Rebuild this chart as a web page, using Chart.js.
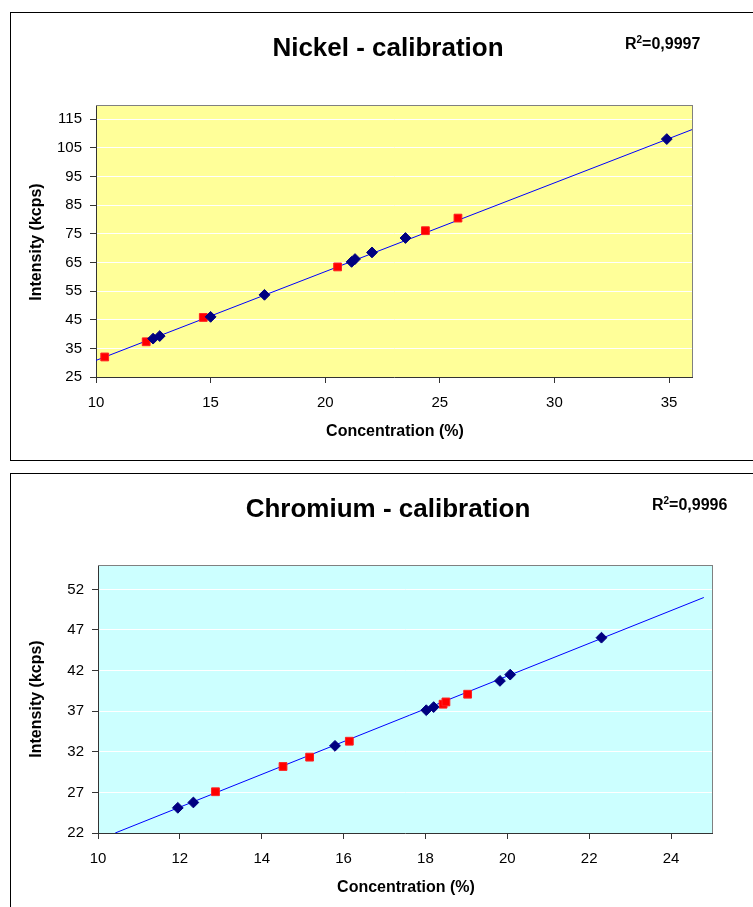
<!DOCTYPE html>
<html>
<head>
<meta charset="utf-8">
<script src="https://cdn.jsdelivr.net/npm/chart.js@4.4.1/dist/chart.umd.min.js"></script>
<style>
  html, body { margin: 0; padding: 0; background: #ffffff; overflow: hidden; }
  body { width: 753px; height: 907px; position: relative; }
  .wrap { position: absolute; left: 0; width: 753px; }
  canvas { display: block; }
</style>
</head>
<body>
<div class="wrap" style="top:0;height:462px;"><canvas id="ni" width="753" height="462"></canvas></div>
<div class="wrap" style="top:462px;height:445px;"><canvas id="cr" width="753" height="445"></canvas></div>
<script>
// ---------- Nickel data ----------
const niStdConc = [12.49, 12.78, 15.0, 17.35, 21.15, 21.3, 22.04, 23.5, 34.9];
const niStdInt  = [38.4, 39.3, 46.0, 53.7, 65.2, 66.2, 68.5, 73.55, 108.1];
const niChkConc = [10.38, 12.19, 14.68, 20.54, 24.37, 25.79];
const niChkInt  = [32.0, 37.3, 45.8, 63.45, 76.1, 80.5];
const niTrendConc = [10, 36];
const niTrendInt  = [30.8, 111.4];
const niXTicks = [10, 15, 20, 25, 30, 35];
const niYTicks = [25, 35, 45, 55, 65, 75, 85, 95, 105, 115];
const niR2 = "0,9997";

// ---------- Chromium data ----------
const crStdConc = [11.95, 12.33, 15.79, 18.02, 18.2, 19.82, 20.07, 22.3];
const crStdInt  = [25.1, 25.76, 32.73, 37.12, 37.5, 40.73, 41.5, 46.05];
const crChkConc = [12.87, 14.52, 15.17, 16.14, 18.43, 18.5, 19.03];
const crChkInt  = [27.08, 30.19, 31.34, 33.3, 37.86, 38.14, 39.09];
const crTrendConc = [10.42, 24.8];
const crTrendInt  = [22, 51.0];
const crXTicks = [10, 12, 14, 16, 18, 20, 22, 24];
const crYTicks = [22, 27, 32, 37, 42, 47, 52];
const crR2 = "0,9996";

const FONT = "'Liberation Sans', Arial, Helvetica, sans-serif";

function pts(xs, ys) { return xs.map((x, i) => ({ x: x, y: ys[i] })); }

const decor = {
  id: 'decor',
  beforeDraw(chart, args, o) {
    const ctx = chart.ctx, a = chart.chartArea;
    ctx.save();
    ctx.fillStyle = o.plotBg;
    ctx.fillRect(a.left, a.top, a.right - a.left, a.bottom - a.top);
    ctx.restore();
  },
  beforeDatasetsDraw(chart, args, o) {
    const ctx = chart.ctx, a = chart.chartArea;
    ctx.save();
    ctx.strokeStyle = '#808080';
    ctx.lineWidth = 1;
    ctx.beginPath();
    ctx.moveTo(a.left, Math.round(a.top) + 0.5);
    ctx.lineTo(a.right, Math.round(a.top) + 0.5);
    ctx.moveTo(Math.round(a.right) + 0.5, a.top);
    ctx.lineTo(Math.round(a.right) + 0.5, a.bottom);
    ctx.stroke();
    ctx.restore();
  },
  afterDraw(chart, args, o) {
    const ctx = chart.ctx;
    ctx.save();
    // outer box
    ctx.strokeStyle = '#000000';
    ctx.lineWidth = 1;
    ctx.strokeRect(o.box[0] + 0.5, o.box[1] + 0.5, o.box[2], o.box[3]);
    ctx.fillStyle = '#000000';
    // title
    ctx.font = 'bold 26px ' + FONT;
    ctx.textAlign = 'center';
    ctx.textBaseline = 'alphabetic';
    ctx.fillText(o.title, o.titleX, o.titleY);
    // R^2
    ctx.textAlign = 'left';
    ctx.font = 'bold 16px ' + FONT;
    let x = o.r2X;
    ctx.fillText('R', x, o.r2Y);
    x += ctx.measureText('R').width;
    ctx.font = 'bold 10px ' + FONT;
    ctx.fillText('2', x, o.r2Y - 6);
    x += ctx.measureText('2').width;
    ctx.font = 'bold 16px ' + FONT;
    ctx.fillText('=' + o.r2, x, o.r2Y);
    // axis titles
    ctx.font = 'bold 16px ' + FONT;
    ctx.textAlign = 'center';
    ctx.textBaseline = 'middle';
    ctx.fillText(o.xTitle, o.xTitleX, o.xTitleY);
    ctx.translate(o.yTitleX, o.yTitleY);
    ctx.rotate(-Math.PI / 2);
    ctx.fillText(o.yTitle, 0, 0);
    ctx.restore();
  }
};

function makeChart(id, cfg) {
  const fixTicks = (list) => (axis) => { axis.ticks = list.map(v => ({ value: v })); };
  return new Chart(document.getElementById(id), {
    type: 'scatter',
    data: {
      datasets: [
        { label: 'Standards', data: pts(cfg.stdX, cfg.stdY), pointStyle: 'rectRot', pointRadius: 5.4,
          backgroundColor: '#000080', borderColor: '#000080', borderWidth: 1, order: 1 },
        { label: 'Samples', data: pts(cfg.chkX, cfg.chkY), pointStyle: 'rect', pointRadius: 5.5,
          backgroundColor: '#FF0000', borderColor: '#FF2020', borderWidth: 1, order: 2 },
        { label: 'Trend', type: 'line', data: pts(cfg.trX, cfg.trY), showLine: true, pointRadius: 0,
          borderColor: '#0000FF', borderWidth: 1, fill: false, order: 3 }
      ]
    },
    options: {
      responsive: false,
      animation: false,
      events: [],
      layout: { padding: cfg.padding },
      plugins: {
        legend: { display: false },
        tooltip: { enabled: false },
        decor: cfg.decor
      },
      scales: {
        x: {
          type: 'linear', min: cfg.xMin, max: cfg.xMax,
          afterBuildTicks: fixTicks(cfg.xTicks),
          afterFit: (s) => { s.height = cfg.xAxisH; },
          grid: { drawOnChartArea: false, drawTicks: true, tickLength: 6, tickColor: '#333333', color: '#333333' },
          border: { color: '#333333', width: 1 },
          ticks: { color: '#000000', font: { family: FONT, size: 15 }, padding: 11, maxRotation: 0, autoSkip: false }
        },
        y: {
          type: 'linear', min: cfg.yMin, max: cfg.yMax,
          afterBuildTicks: fixTicks(cfg.yTicks),
          afterFit: (s) => { s.width = cfg.yAxisW; },
          grid: { drawOnChartArea: true, drawTicks: true, tickLength: 6, tickColor: '#333333', color: '#FFFFFF', lineWidth: 1 },
          border: { color: '#333333', width: 1 },
          ticks: { color: '#000000', font: { family: FONT, size: 15 }, padding: 8, autoSkip: false }
        }
      }
    },
    plugins: [decor]
  });
}

makeChart('ni', {
  stdX: niStdConc, stdY: niStdInt, chkX: niChkConc, chkY: niChkInt, trX: niTrendConc, trY: niTrendInt,
  xMin: 10, xMax: 36, yMin: 25, yMax: 120, xTicks: niXTicks, yTicks: niYTicks,
  yAxisW: 96, xAxisH: 40,
  padding: { left: 0, top: 105, right: 61, bottom: 45 },
  decor: {
    plotBg: '#FFFF99', box: [10, 12, 760, 448],
    title: 'Nickel - calibration', titleX: 388, titleY: 56,
    r2: niR2, r2X: 625, r2Y: 49,
    xTitle: 'Concentration (%)', xTitleX: 395, xTitleY: 432,
    yTitle: 'Intensity (kcps)', yTitleX: 37, yTitleY: 242
  }
});

makeChart('cr', {
  stdX: crStdConc, stdY: crStdInt, chkX: crChkConc, chkY: crChkInt, trX: crTrendConc, trY: crTrendInt,
  xMin: 10, xMax: 25, yMin: 22, yMax: 55, xTicks: crXTicks, yTicks: crYTicks,
  yAxisW: 98, xAxisH: 40,
  padding: { left: 0, top: 103, right: 41, bottom: 34 },
  decor: {
    plotBg: '#CCFFFF', box: [10, 11, 760, 460],
    title: 'Chromium - calibration', titleX: 388, titleY: 55,
    r2: crR2, r2X: 652, r2Y: 48,
    xTitle: 'Concentration (%)', xTitleX: 406, xTitleY: 426,
    yTitle: 'Intensity (kcps)', yTitleX: 37, yTitleY: 237
  }
});
</script>
</body>
</html>
